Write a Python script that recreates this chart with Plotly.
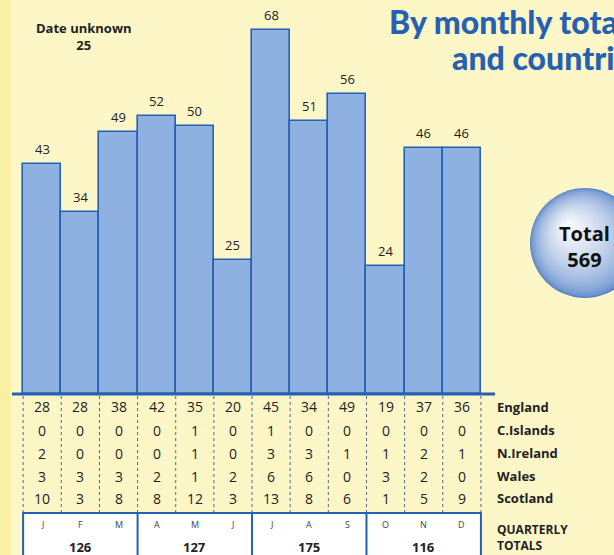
import plotly.graph_objects as go

W, H = 614, 555

months = ["J", "F", "M", "A", "M", "J", "J", "A", "S", "O", "N", "D"]
monthly_totals = [43, 34, 49, 52, 50, 25, 68, 51, 56, 24, 46, 46]
england = [28, 28, 38, 42, 35, 20, 45, 34, 49, 19, 37, 36]
c_islands = [0, 0, 0, 0, 1, 0, 1, 0, 0, 0, 0, 0]
n_ireland = [2, 0, 0, 0, 1, 0, 3, 3, 1, 1, 2, 1]
wales = [3, 3, 3, 2, 1, 2, 6, 6, 0, 3, 2, 0]
scotland = [10, 3, 8, 8, 12, 3, 13, 8, 6, 1, 5, 9]
country_names = ["England", "C.Islands", "N.Ireland", "Wales", "Scotland"]
quarterly_totals = [126, 127, 175, 116]
date_unknown = 25
grand_total = 569

BLUE = "#2461b3"
BAR_FILL = "#8fb1e2"
BG = "#fdf7c8"
TXT = "#222222"
FONT = "Open Sans"

# pixel geometry of the original layout
x0_px, pitch_px = 42.2, 38.15
base_px, unit_px = 394, 5.353


def px_x(px):
    return px / W


def px_y(py):
    return 1 - py / H


def dx(px):
    return (px - x0_px) / pitch_px


def dy(py):
    return (base_px - py) / unit_px


def label(x, y, text, size, xref="x", yref="paper", xanchor="center", **kw):
    d = dict(x=x, y=y, xref=xref, yref=yref, text=text, showarrow=False,
             xanchor=xanchor, yanchor="middle", font=dict(size=size, color=kw.pop("color", TXT)))
    d.update(kw)
    return d


x_idx = list(range(len(months)))

fig = go.Figure()
fig.add_trace(go.Bar(x=x_idx, y=monthly_totals, width=1,
                     marker=dict(color=BAR_FILL, line=dict(color=BLUE, width=1.6)),
                     hoverinfo="skip"))

# total bubble: stacked discs shading from blue rim to a light upper-left highlight
cx, cy, r = 585, 243, 55
steps = 45
for k in range(steps):
    t = k / (steps - 1)
    size = 2 * r * (1 - 0.9 * t)
    off = 16 * t
    c0, c1 = (86, 132, 200), (246, 248, 252)
    col = "rgb({},{},{})".format(*[int(a + (b - a) * t ** 0.55) for a, b in zip(c0, c1)])
    fig.add_trace(go.Scatter(x=[dx(cx - off)], y=[dy(cy - off)], mode="markers",
                             cliponaxis=False, hoverinfo="skip",
                             marker=dict(size=size, color=col, line=dict(width=0))))

ann = []
# bar value labels
for i, v in enumerate(monthly_totals):
    ann.append(label(i, v, str(v), 13, yref="y", yshift=15))

# country rows
rows = [england, c_islands, n_ireland, wales, scotland]
row_py = [407, 430, 453, 476, 498]
for vals, name, py in zip(rows, country_names, row_py):
    for i, v in enumerate(vals):
        ann.append(label(i, px_y(py), str(v), 14))
    ann.append(label(px_x(495), px_y(py), f"<b>{name}</b>", 13, xref="paper", xanchor="left"))

# month letters and quarterly totals
for i, m in enumerate(months):
    ann.append(label(i, px_y(524), m, 9, color="#444444"))
for q, t in enumerate(quarterly_totals):
    ann.append(label(q * 3 + 1, px_y(547), f"<b>{t}</b>", 13))
ann.append(label(px_x(495), px_y(537), "<b>QUARTERLY<br>TOTALS</b>", 12,
                 xref="paper", xanchor="left", align="left"))

# date unknown
ann.append(label(px_x(84), px_y(36), f"<b>Date unknown<br>{date_unknown}</b>", 13, xref="paper"))

# bubble text
ann.append(label(px_x(584), px_y(246), f"<b>Total<br>{grand_total}</b>", 20,
                 xref="paper", color="#111111"))

# title (runs off the right edge like the original)
title_font = dict(size=32, color=BLUE, family="Lato", weight=900)
ann.append(dict(label(px_x(387), px_y(21), "By monthly totals", 32, xref="paper", xanchor="left"),
                font=title_font))
ann.append(dict(label(px_x(450), px_y(57), "and countries", 32, xref="paper", xanchor="left"),
                font=title_font))

shapes = [
    dict(type="rect", xref="paper", yref="paper", x0=0, x1=px_x(11), y0=0, y1=1,
         fillcolor="#faf0a4", line=dict(width=0), layer="below"),
    dict(type="line", xref="paper", yref="y", x0=px_x(12), x1=px_x(495), y0=0, y1=0,
         line=dict(color=BLUE, width=3), layer="above"),
    dict(type="rect", xref="x", yref="paper", x0=-0.5, x1=11.5, y0=-0.05, y1=px_y(513),
         fillcolor="white", line=dict(color=BLUE, width=2)),
]
for k in range(13):
    shapes.append(dict(type="line", xref="x", yref="paper", x0=k - 0.5, x1=k - 0.5,
                       y0=px_y(396), y1=px_y(512), line=dict(color="#4f6796", width=1, dash="dot")))
for k in (2.5, 5.5, 8.5):
    shapes.append(dict(type="line", xref="x", yref="paper", x0=k, x1=k,
                       y0=0, y1=px_y(513), line=dict(color=BLUE, width=2)))

fig.update_xaxes(range=[dx(0), dx(W)], visible=False, fixedrange=True)
fig.update_yaxes(range=[dy(H), dy(0)], visible=False, fixedrange=True)
fig.update_layout(width=W, height=H, margin=dict(l=0, r=0, t=0, b=0),
                  paper_bgcolor=BG, plot_bgcolor=BG, showlegend=False, bargap=0,
                  font=dict(family=FONT, color=TXT), annotations=ann, shapes=shapes)

fig.write_html("out.html", config={"displayModeBar": False},
               post_script="document.body.style.margin='0';document.body.style.overflow='hidden';")
